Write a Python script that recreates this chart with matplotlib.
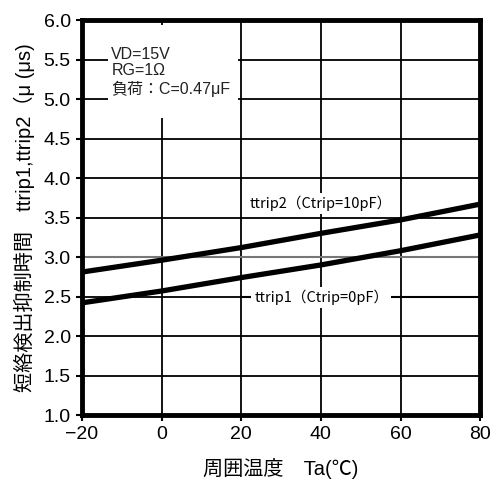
import matplotlib

matplotlib.use("Agg")
import matplotlib.pyplot as plt
from matplotlib.patches import Rectangle

plt.rcParams["font.family"] = ["Liberation Sans", "Noto Sans CJK JP", "DejaVu Sans"]

# Ta (degC) vs ttrip (us)
temp = [-20, 0, 20, 40, 60, 80]
ttrip1 = [2.42, 2.57, 2.74, 2.90, 3.08, 3.28]
ttrip2 = [2.81, 2.96, 3.12, 3.30, 3.47, 3.67]

x_ticks = [-20, 0, 20, 40, 60, 80]
y_ticks = [1.0, 1.5, 2.0, 2.5, 3.0, 3.5, 4.0, 4.5, 5.0, 5.5, 6.0]

cond_lines = ["VD=15V", "RG=1Ω", "負荷：C=0.47μF"]

fig = plt.figure(figsize=(4.93, 4.90), dpi=100)
ax = fig.add_axes([0.166, 0.153, 0.808, 0.806])

ax.set_xlim(-20, 80)
ax.set_ylim(1.0, 6.0)
ax.set_xticks(x_ticks)
ax.set_yticks(y_ticks)
ax.set_xticklabels(["\u221220" if t == -20 else str(t) for t in x_ticks], fontsize=14)
ax.set_yticklabels([f"{v:.1f}" for v in y_ticks], fontsize=14)
ax.tick_params(direction="out", length=4, width=1.5, pad=4)

# grid
for x in x_ticks[1:-1]:
    ax.axvline(x, color="black", lw=1.3, zorder=0.5)
for y in y_ticks[1:-1]:
    c = "#777777" if y == 3.0 else "black"
    ax.axhline(y, color=c, lw=1.5 if y == 3.0 else 1.3, zorder=0.5)

for s in ax.spines.values():
    s.set_linewidth(3.5)
    s.set_zorder(5)

# curves
ax.plot(temp, ttrip2, color="black", lw=3.8, solid_capstyle="butt", zorder=3)
ax.plot(temp, ttrip1, color="black", lw=3.8, solid_capstyle="butt", zorder=3)

# condition box
ax.add_patch(Rectangle((-13.5, 4.76), 32.7, 1.18, facecolor="white",
                       edgecolor="none", zorder=1))
for txt, y in zip(cond_lines, [5.57, 5.36, 5.13]):
    ax.text(-12.6, y, txt, fontsize=11.5, color="#222222", va="center",
            ha="left", zorder=2)

# curve labels
cjk = ["Noto Sans CJK JP", "DejaVu Sans"]
ax.text(40.1, 3.68, "ttrip2（Ctrip=10pF）", fontsize=10.5, ha="center",
        va="center", family=cjk, zorder=2,
        bbox=dict(facecolor="white", edgecolor="none", pad=2))
ax.plot([20, 80], [2.49, 2.49], color="black", lw=1.5, zorder=1.5)
ax.text(40.1, 2.49, "ttrip1（Ctrip=0pF）", fontsize=10.5, ha="center",
        va="center", family=cjk, zorder=2,
        bbox=dict(facecolor="white", edgecolor="none", pad=2))

ax.set_xlabel("周囲温度　Ta(℃)", fontsize=14.5, labelpad=11)
ax.set_ylabel("短絡検出抑制時間　ttrip1,ttrip2（μ (μs)", fontsize=14.5, labelpad=6)

fig.savefig("out.png", dpi=100)
